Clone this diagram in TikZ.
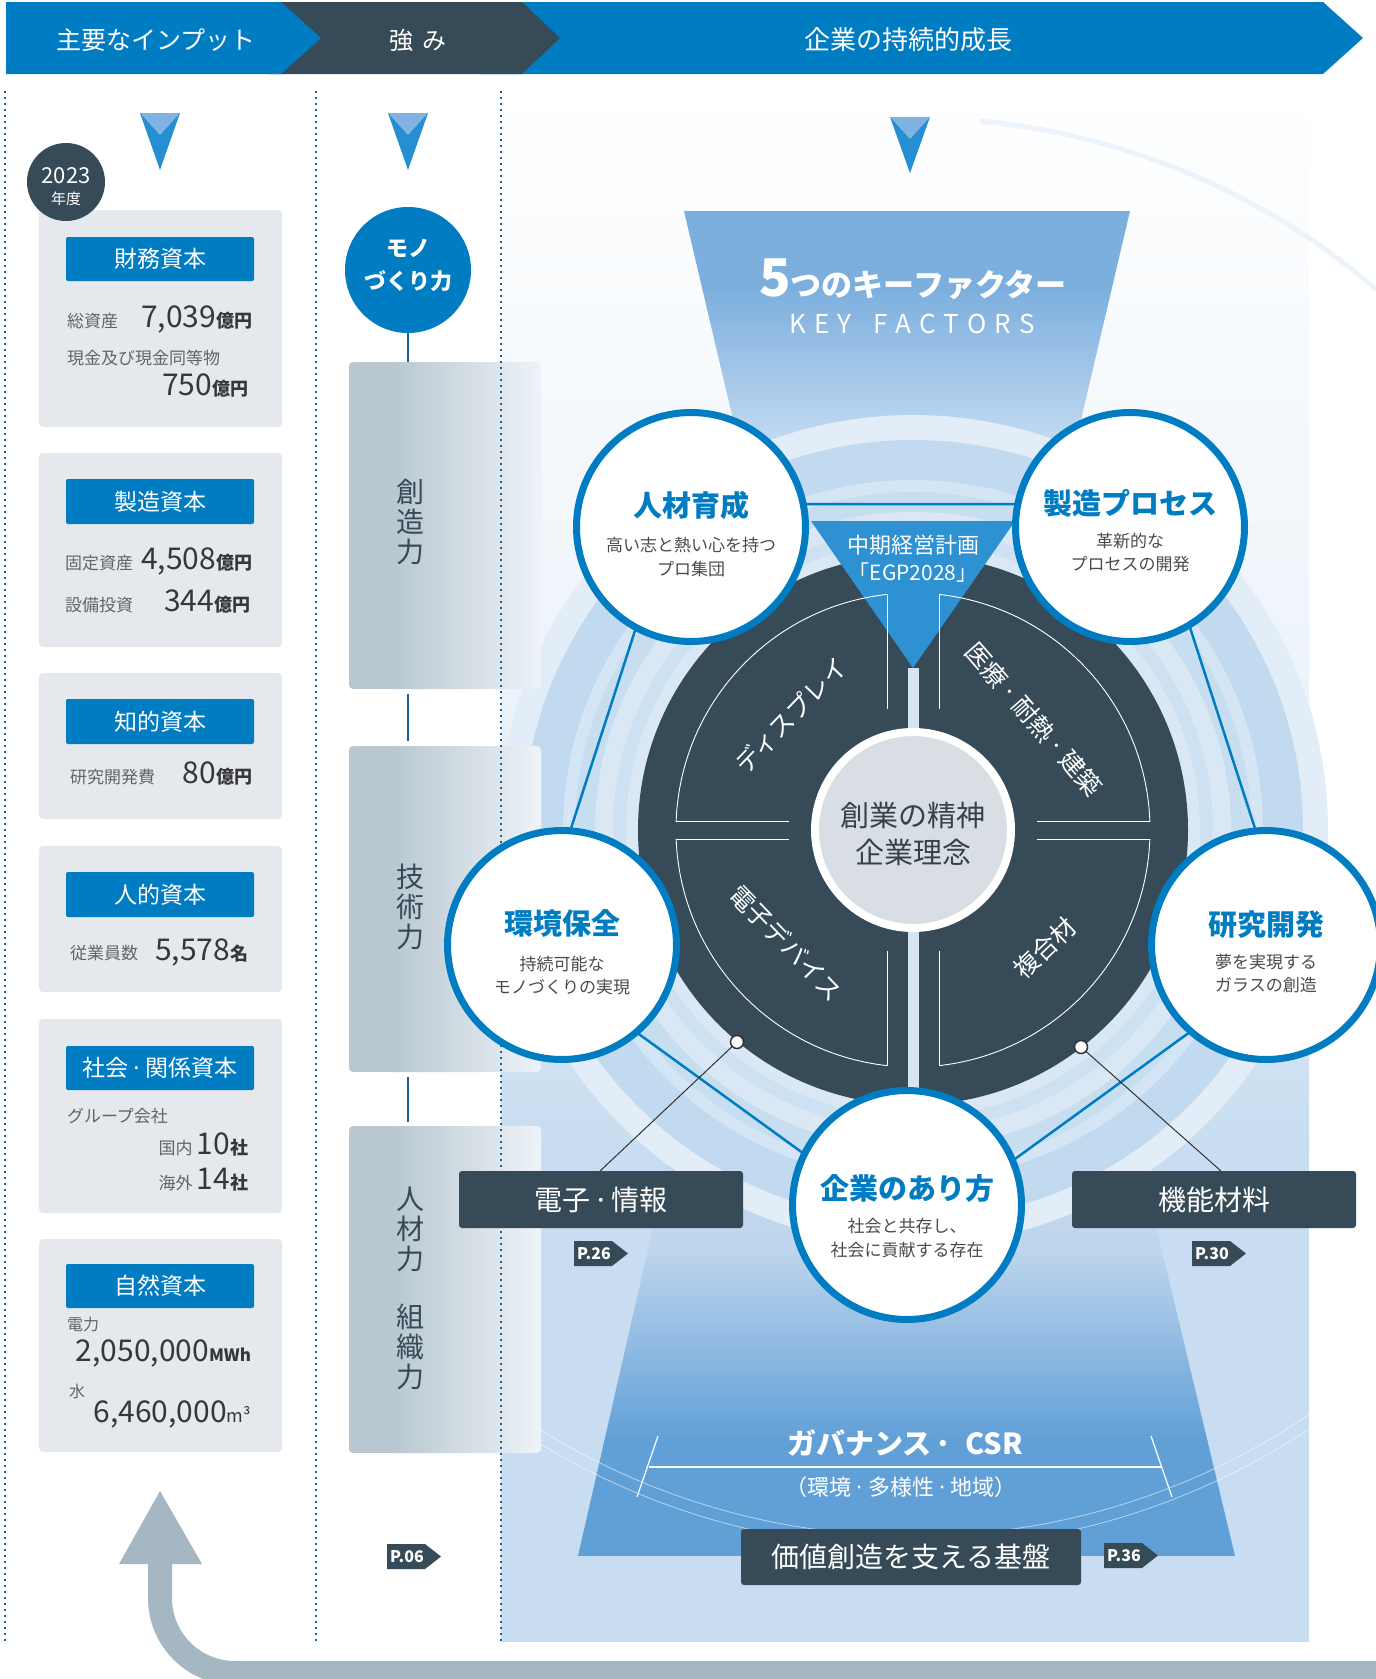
\documentclass[tikz,border=0pt]{standalone}
\usepackage{fontspec}
\setmainfont{Noto Sans CJK JP}
\usetikzlibrary{shapes.geometric}
\definecolor{hblue}{RGB}{0,124,194}
\definecolor{hdark}{RGB}{54,74,88}
\definecolor{boxgray}{RGB}{229,233,237}
\definecolor{lblgray}{RGB}{100,100,100}
\definecolor{numgray}{RGB}{55,55,55}
\definecolor{subgray}{RGB}{75,75,75}
\definecolor{dotblue}{RGB}{25,95,155}
\definecolor{trilight}{RGB}{128,178,226}
\definecolor{tridark}{RGB}{38,142,210}
\definecolor{colgray}{RGB}{184,199,208}
\definecolor{colfade}{RGB}{238,243,248}
\definecolor{loopgray}{RGB}{165,183,195}
\definecolor{egpblue}{RGB}{45,145,210}
\definecolor{funtop}{RGB}{125,175,222}
\definecolor{funmid}{RGB}{212,229,245}
\definecolor{bgmid}{RGB}{236,243,250}
\definecolor{bgbot}{RGB}{200,221,241}
\definecolor{trapmid}{RGB}{190,213,237}
\definecolor{trapbot}{RGB}{97,160,215}
\definecolor{ringA}{RGB}{226,237,248}
\definecolor{ringB}{RGB}{194,218,239}
\definecolor{ringC}{RGB}{212,229,245}
\definecolor{ringD}{RGB}{199,222,241}
\definecolor{ringE}{RGB}{218,232,246}
\definecolor{ringF}{RGB}{205,225,243}
\definecolor{barlight}{RGB}{214,227,240}
\definecolor{centergray}{RGB}{216,222,228}
\definecolor{centertext}{RGB}{55,65,75}
\definecolor{ptrdark}{RGB}{50,50,50}
\definecolor{faintblue}{RGB}{236,243,250}
\definecolor{coltext}{RGB}{55,74,87}
\newcommand\fsz[1]{\fontsize{#1}{#1}\selectfont}
\newcommand\nd{\kern0.1em·\kern0.1em}
\newcommand\downtri[3]{%
  \fill[tridark] (#1-20,#2) -- (#1+20,#2) -- (#1,#3) -- cycle;
  \fill[trilight] (#1-20,#2) -- (#1+20,#2) -- (#1,#2+22) -- cycle;}
\newcommand\ptag[4]{% name, x, y, text
  \fill[hdark] (#2,#3) -- (#2+38,#3) -- (#2+54,#3+12.5) -- (#2+38,#3+25) -- (#2,#3+25) -- cycle;
  \node[text=white, font={\fsz{16}\bfseries}] (#1) at (#2+20,#3+12.5) {#4};}
\newcommand\colbox[2]{%
  \begin{scope}
    \clip[rounded corners=4pt] (349,#1) rectangle (541,#2);
    \fill[colgray] (349,#1) rectangle (392,#2);
    \shade[left color=colgray, right color=colfade] (391.5,#1) rectangle (541,#2);
  \end{scope}}
\begin{document}
\begin{tikzpicture}[x=1pt,y=-1pt,
  every node/.style={inner sep=0pt,outer sep=0pt},
  lbl/.style={text=lblgray, anchor=base west},
  num/.style={text=numgray, anchor=base east},
  captitle/.style={text=white, font={\fsz{23}}},
  kcirc/.style={circle, draw=hblue, line width=7pt, fill=white, minimum size=229pt},
  ktitle/.style={text=hblue, font={\fsz{29}\bfseries}},
  ksub/.style={text=subgray, font={\fsz{17}}},
  coltxt/.style={text=coltext, align=center, font={\fontsize{28}{30}\selectfont}},
  quadlbl/.style={text=white, font={\fsz{25}}},
  dotline/.style={dotblue, line width=1.6pt, dash pattern=on 2.2pt off 3.8pt},
  darktag/.style={fill=hdark, rounded corners=3pt, text=white, font={\fsz{28}}},
  outl/.style={white, line width=0.9pt}]

\useasboundingbox (0,0) rectangle (1376,1679);
\fill[white] (0,0) rectangle (1376,1679);
\coordinate (c) at (913,830);

% ---------- header ----------
\fill[hblue] (480,2) -- (1323,2) -- (1363,38) -- (1323,74) -- (480,74) -- cycle;
\fill[hdark] (270,2) -- (522,2) -- (560,38) -- (522,74) -- (270,74) -- cycle;
\fill[hblue] (6,2) -- (281,2) -- (321,38) -- (281,74) -- (6,74) -- cycle;
\node[text=white, font={\fsz{25}}] (hin) at (156,40) {主要なインプット};
\node[text=white, font={\fsz{24}}] (hst) at (418,40) {強\hspace{10pt}み};
\node[text=white, font={\fsz{26}}] (hgr) at (908,40) {企業の持続的成長};

% ---------- right background ----------
\shade[top color=white, bottom color=bgmid] (501,88) rectangle (1309,700);
\shade[top color=bgmid, bottom color=bgbot] (501,699.5) rectangle (1309,1150);
\fill[bgbot] (501,1149.5) rectangle (1309,1642);

% top funnel
\begin{scope}
  \clip (684,211) -- (1130,211) -- (1048,560) -- (766,560) -- cycle;
  \fill[funtop] (680,211) rectangle (1135,290);
  \shade[top color=funtop, bottom color=funmid] (680,289.5) rectangle (1135,480);
  \shade[top color=funmid, bottom color=ringC] (680,479.5) rectangle (1135,560);
\end{scope}
% bottom trapezoid
\begin{scope}
  \clip (705,1000) -- (1102,1000) -- (1235,1556) -- (578,1556) -- cycle;
  \shade[top color=bgbot, bottom color=trapmid] (570,1000) rectangle (1240,1250);
  \shade[top color=trapmid, bottom color=trapbot] (570,1249.5) rectangle (1240,1440);
  \fill[trapbot] (570,1439.5) rectangle (1240,1556);
\end{scope}
% big faint circle (only the visible parts)
\begin{scope}
  \clip (980,88) rectangle (1376,420);
  \draw[faintblue, line width=5pt] (c) circle (712);
\end{scope}
\begin{scope}
  \clip (501,1000) rectangle (1376,1642);
  \draw[white, opacity=.55, line width=0.8pt] (c) circle (706) (c) circle (718);
\end{scope}

% rings
\fill[ringA] (c) circle (415);
\fill[ringB] (c) circle (390);
\fill[ringC] (c) circle (350);
\fill[ringD] (c) circle (338);
\fill[ringE] (c) circle (318);
\fill[ringF] (c) circle (300);
\fill[ringE] (c) circle (287);

% ---------- down markers ----------
\downtri{160}{113}{170}
\downtri{408}{113}{170}
\downtri{910}{117}{173}

% ---------- left column ----------
\fill[boxgray, rounded corners=4pt] (39,210) rectangle (282,427);
\fill[boxgray, rounded corners=4pt] (39,453) rectangle (282,647);
\fill[boxgray, rounded corners=4pt] (39,673) rectangle (282,819);
\fill[boxgray, rounded corners=4pt] (39,846) rectangle (282,992);
\fill[boxgray, rounded corners=4pt] (39,1019) rectangle (282,1213);
\fill[boxgray, rounded corners=4pt] (39,1239) rectangle (282,1452);

\fill[hblue, rounded corners=2pt] (66,237) rectangle (254,281);
\fill[hblue, rounded corners=2pt] (66,479) rectangle (254,524);
\fill[hblue, rounded corners=2pt] (66,699) rectangle (254,744);
\fill[hblue, rounded corners=2pt] (66,872) rectangle (254,917);
\fill[hblue, rounded corners=2pt] (66,1046) rectangle (254,1090);
\fill[hblue, rounded corners=2pt] (66,1264) rectangle (254,1308);
\node[captitle] (cap1) at (160,259) {財務資本};
\node[captitle] (cap2) at (160,501.5) {製造資本};
\node[captitle] (cap3) at (160,721.5) {知的資本};
\node[captitle] (cap4) at (160,894.5) {人的資本};
\node[captitle] (cap5) at (160,1068) {社会\nd 関係資本};
\node[captitle] (cap6) at (160,1286) {自然資本};

\node[lbl, font={\fsz{17}}] (l1a) at (67,327) {総資産};
\node[num] (n1a) at (252,327) {\fsz{30}7,039\fsz{18}\bfseries 億円};
\node[lbl, font={\fsz{17}}] (l1b) at (67,364) {現金及び現金同等物};
\node[num] (n1b) at (248,395) {\fsz{30}750\fsz{18}\bfseries 億円};

\node[lbl, font={\fsz{17}}] (l2a) at (65,569) {固定資産};
\node[num] (n2a) at (252,569) {\fsz{30}4,508\fsz{18}\bfseries 億円};
\node[lbl, font={\fsz{17}}] (l2b) at (65,611) {設備投資};
\node[num] (n2b) at (250,611) {\fsz{30}344\fsz{18}\bfseries 億円};

\node[lbl, font={\fsz{17}}] (l3a) at (70,783) {研究開発費};
\node[num] (n3a) at (252,783) {\fsz{30}80\fsz{18}\bfseries 億円};

\node[lbl, font={\fsz{17}}] (l4a) at (70,959) {従業員数};
\node[num] (n4a) at (248,960) {\fsz{30}5,578\fsz{18}\bfseries 名};

\node[lbl, font={\fsz{17}}] (l5a) at (67,1122) {グループ会社};
\node[num] (n5a) at (248,1154) {{\color{lblgray}\fsz{17}国内}\hspace{4pt}\fsz{30}10\fsz{18}\bfseries 社};
\node[num] (n5b) at (248,1189) {{\color{lblgray}\fsz{17}海外}\hspace{4pt}\fsz{30}14\fsz{18}\bfseries 社};

\node[lbl, font={\fsz{16}}] (l6a) at (67,1330) {電力};
\node[num] (n6a) at (251,1361) {\fsz{30}2,050,000\fsz{17}\bfseries MWh};
\node[lbl, font={\fsz{16}}] (l6b) at (69,1397) {水};
\node[num] (n6b) at (251,1422) {\fsz{30}6,460,000\fsz{18}m³};

% year badge
\fill[hdark] (66,182) circle (39);
\node[text=white, font={\fsz{22}}] (yr) at (66,176) {2023};
\node[text=white, font={\fsz{15}}] (yrl) at (66,199) {年度};

% ---------- middle column ----------
\colbox{362}{689}
\colbox{746}{1072}
\colbox{1126}{1453}
\node[circle, fill=hblue, minimum size=126pt] (mono) at (408,270) {};
\node[text=white, align=center, font={\fontsize{22}{33}\selectfont\bfseries}] (monot) at (408,265) {モノ\\づくり力};
\coordinate (m1a) at (408,362);
\coordinate (m2a) at (408,694); \coordinate (m2b) at (408,741);
\coordinate (m3a) at (408,1077); \coordinate (m3b) at (408,1122);
\draw[dotblue, line width=2pt] (mono) -- (m1a);
\draw[dotblue, line width=2pt] (m2a) -- (m2b);
\draw[dotblue, line width=2pt] (m3a) -- (m3b);
\node[coltxt] (sozo) at (410,522) {創\\造\\力};
\node[coltxt] (gijutsu) at (410,907) {技\\術\\力};
\node[coltxt] (jinzai) at (410,1288) {人\\材\\力\\[28pt]組\\織\\力};
\ptag{p06}{387}{1544}{P.06}

% ---------- dotted dividers ----------
\draw[dotline] (5,91) -- (5,1643);
\draw[dotline] (316,91) -- (316,1643);
\draw[dotline] (501,91) -- (501,1643);

% ---------- key factors title ----------
\node[anchor=base, text=white] (kf) at (913,296) {\fsz{52}\bfseries 5\fsz{31}つのキーファクター};
\node[anchor=base, text=white, font={\fsz{26}}] (kfe) at (912,333)
  {K\kern8pt E\kern8pt Y\kern22pt F\kern8pt A\kern8pt C\kern8pt T\kern8pt O\kern8pt R\kern8pt S};

% ---------- pentagon ----------
\coordinate (p1) at (676,504);
\coordinate (p2) at (1150,504);
\coordinate (p3) at (1296,955);
\coordinate (p4) at (913,1233);
\coordinate (p5) at (530,955);
\draw[hblue, line width=2.5pt] (p1) -- (p2) -- (p3) -- (p4) -- (p5) -- cycle;

% ---------- dark circle ----------
\fill[hdark] (c) circle (275);
\fill[egpblue] (811,521) -- (1015,521) -- (913,668) -- cycle;
\fill[barlight] (907.5,668) rectangle (918.5,1106);
% quadrant outlines
\begin{scope}\clip (600,540) rectangle (887,821); \draw[outl] (c) circle (237);\end{scope}
\begin{scope}\clip (939,540) rectangle (1230,821); \draw[outl] (c) circle (237);\end{scope}
\begin{scope}\clip (600,839) rectangle (887,1120); \draw[outl] (c) circle (237);\end{scope}
\begin{scope}\clip (939,839) rectangle (1230,1120); \draw[outl] (c) circle (237);\end{scope}
\draw[outl] (887,594.4) -- (887,708.8);
\draw[outl] (676.2,821) -- (789.3,821);
\draw[outl] (939,594.4) -- (939,708.8);
\draw[outl] (1036.7,821) -- (1149.8,821);
\draw[outl] (887,951.2) -- (887,1065.6);
\draw[outl] (676.2,839) -- (789.3,839);
\draw[outl] (939,951.2) -- (939,1065.6);
\draw[outl] (1036.7,839) -- (1149.8,839);
\node[quadlbl, rotate=46] (q1) at (791,715) {ディスプレイ};
\node[quadlbl, rotate=-49, font={\fsz{25}}] (q2) at (1034,719) {医療\kern0.15em·\kern0.15em 耐熱\kern0.15em·\kern0.15em 建築};
\node[quadlbl, rotate=-46] (q3) at (786,943) {電子デバイス};
\node[quadlbl, rotate=44] (q4) at (1045,948) {複合材};

\node[text=white, font={\fsz{22}}] (egp1) at (913,545) {中期経営計画};
\node[text=white, font={\fsz{21}}] (egp2) at (913,573) {「EGP2028」};

% center circle
\draw[white, line width=8pt, fill=centergray] (c) circle (98);
\node[text=centertext, align=center, font={\fontsize{29}{37}\selectfont}] (core) at (913,834) {創業の精神\\企業理念};

% ---------- pointers ----------
\coordinate (e1) at (600,1171);
\coordinate (e2) at (1221,1171);
\node[circle, fill=white, draw=ptrdark, line width=1.5pt, minimum size=13pt] (dot1) at (737,1042) {};
\node[circle, fill=white, draw=ptrdark, line width=1.5pt, minimum size=13pt] (dot2) at (1081,1047) {};
\draw[ptrdark, line width=1pt] (dot1) -- (e1);
\draw[ptrdark, line width=1pt] (dot2) -- (e2);

% ---------- five key factor circles ----------
\node[kcirc] (k1) at (691,527) {};
\node[kcirc] (k2) at (1130,527) {};
\node[kcirc] (k3) at (562,945) {};
\node[kcirc] (k4) at (1266,945) {};
\node[kcirc] (k5) at (907,1205) {};
\node[ktitle] (k1t) at (691,505) {人材育成};
\node[ksub] (k1s) at (691,545) {高い志と熱い心を持つ};
\node[ksub] (k1u) at (691,569) {プロ集団};
\node[ktitle] (k2t) at (1130,503) {製造プロセス};
\node[ksub] (k2s) at (1130,541) {革新的な};
\node[ksub] (k2u) at (1130,564) {プロセスの開発};
\node[ktitle] (k3t) at (562,923) {環境保全};
\node[ksub] (k3s) at (562,964) {持続可能な};
\node[ksub] (k3u) at (562,987) {モノづくりの実現};
\node[ktitle] (k4t) at (1266,925) {研究開発};
\node[ksub] (k4s) at (1266,962) {夢を実現する};
\node[ksub] (k4u) at (1266,985) {ガラスの創造};
\node[ktitle] (k5t) at (907,1189) {企業のあり方};
\node[ksub] (k5s) at (907,1226) {社会と共存し、};
\node[ksub] (k5u) at (907,1250) {社会に貢献する存在};

% ---------- business tags ----------
\node[darktag, minimum width=284pt, minimum height=57pt] (denshi) at (601,1199.5) {電子\nd 情報};
\node[darktag, minimum width=284pt, minimum height=57pt] (kinou) at (1214,1199.5) {機能材料};
\ptag{p26}{574}{1241}{P.26}
\ptag{p30}{1192}{1241}{P.30}

% ---------- governance ----------
\node[text=white, font={\fsz{29}\bfseries}] (gov) at (905,1443) {ガバナンス\nd\hspace{10pt}CSR};
\coordinate (b1) at (649,1467); \coordinate (b2) at (1162,1467);
\draw[white, line width=1.5pt] (b1) -- (b2);
\coordinate (t1a) at (658,1436); \coordinate (t1b) at (637,1497);
\coordinate (t2a) at (1151,1436); \coordinate (t2b) at (1172,1497);
\draw[white, line width=1.2pt] (t1a) -- (t1b);
\draw[white, line width=1.2pt] (t2a) -- (t2b);
\node[text=white, font={\fsz{22}}] (govs) at (901,1487) {（環境\nd 多様性\nd 地域）};
\node[darktag, minimum width=340pt, minimum height=56pt] (kiban) at (911,1557) {価値創造を支える基盤};
\ptag{p36}{1104}{1543}{P.36}

% ---------- loop arrow ----------
\draw[loopgray, line width=24pt, rounded corners=75pt] (160,1560) -- (160,1673) -- (1400,1673);
\fill[loopgray] (119,1564) -- (160,1491) -- (202,1564) -- cycle;
\end{tikzpicture}
\end{document}
